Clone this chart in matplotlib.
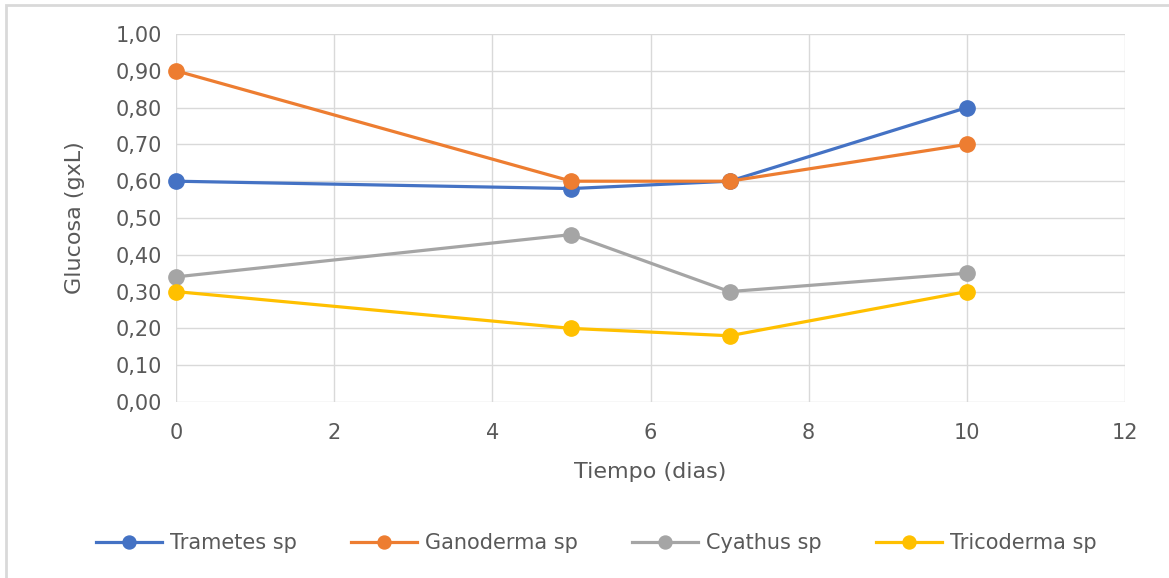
import matplotlib
matplotlib.use("Agg")
import matplotlib.pyplot as plt
import matplotlib.ticker as ticker
from matplotlib.patches import Rectangle

# ── data ─────────────────────────────────────────────────────────────────────
dias = [0, 5, 7, 10]
trametes = [0.60, 0.58, 0.60, 0.80]
ganoderma = [0.90, 0.60, 0.60, 0.70]
cyathus = [0.34, 0.455, 0.30, 0.35]
tricoderma = [0.30, 0.20, 0.18, 0.30]

series_names = ["Trametes sp", "Ganoderma sp", "Cyathus sp", "Tricoderma sp"]
series_vals = [trametes, ganoderma, cyathus, tricoderma]
colors = ["#4472C4", "#ED7D31", "#A5A5A5", "#FFC000"]

plt.rcParams["font.family"] = ["DejaVu Sans"]

fig = plt.figure(figsize=(11.69, 5.78), dpi=100)
ax = fig.add_axes([176 / 1169, 1 - 402 / 578, (1125 - 176) / 1169, (402 - 34) / 578])

# grey frame of the chart area (cut off at right/bottom in the reference)
fig.patches.append(Rectangle((6 / 1169, -0.05), 1.1, 1 - 5 / 578 + 0.05,
                             transform=fig.transFigure, fill=False,
                             edgecolor="#D9D9D9", linewidth=2))

for name, vals, c in zip(series_names, series_vals, colors):
    ax.plot(dias, vals, "-o", color=c, linewidth=2.3, markersize=11,
            label=name, clip_on=False, zorder=3)

ax.set_xlim(0, 12)
ax.set_ylim(0, 1.0)
ax.set_xticks(range(0, 13, 2))
ax.set_yticks([i / 10 for i in range(11)])
ax.yaxis.set_major_formatter(ticker.FuncFormatter(lambda v, _: f"{v:.2f}".replace(".", ",")))
ax.grid(True, color="#D9D9D9", linewidth=1)
ax.set_axisbelow(True)
for s in ax.spines.values():
    s.set_visible(False)
ax.tick_params(length=0, labelsize=15, colors="#595959", pad=10)
ax.tick_params(axis="x", pad=15)

ax.set_xlabel("Tiempo (dias)", fontsize=16, color="#595959", labelpad=14)
ax.set_ylabel("Glucosa (gxL)", fontsize=16, color="#595959", labelpad=22)

fig.legend(loc="center", bbox_to_anchor=(596 / 1169, 1 - 543 / 578), ncol=4,
           frameon=False, fontsize=15, labelcolor="#595959", handlelength=3.2,
           handletextpad=0.35, columnspacing=2.6, markerscale=0.85)

fig.savefig("out.png", dpi=100)
